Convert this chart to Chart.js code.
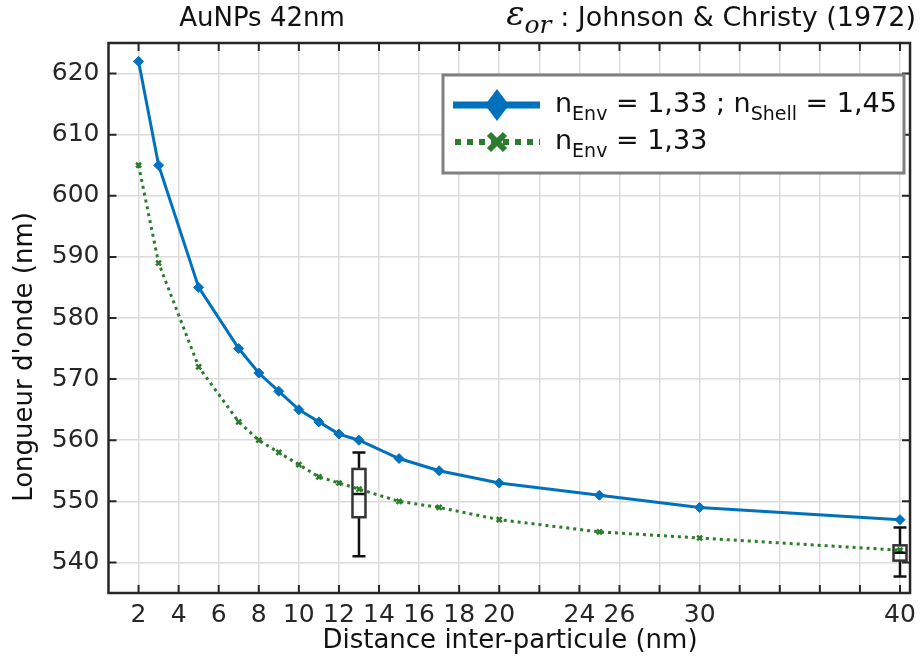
<!DOCTYPE html>
<html>
<head>
<meta charset="utf-8">
<script src="https://cdn.jsdelivr.net/npm/chart.js@4.4.1/dist/chart.umd.min.js"></script>
<style>
  body { margin: 0; background: #fff; }
</style>
</head>
<body>
<canvas id="chart" width="923" height="660"></canvas>
<script>
// data
const distances = [2, 3, 5, 7, 8, 9, 10, 11, 12, 13, 15, 17, 20, 25, 30, 40];
const shellValues = [622, 605, 585, 575, 571, 568, 565, 563, 561, 560, 557, 555, 553, 551, 549, 547];
const envValues = [605, 589, 572, 563, 560, 558, 556, 554, 553, 552, 550, 549, 547, 545, 544, 542];
const xTickLabels = [2, 4, 6, 8, 10, 12, 14, 16, 18, 20, 24, 26, 30, 40];
const xTickMarks = [2, 4, 6, 8, 10, 12, 14, 16, 18, 20, 22, 24, 26, 28, 30, 32, 34, 36, 38, 40];
const yTicks = [540, 550, 560, 570, 580, 590, 600, 610, 620];
const boxX = [13, 40];
const boxLow = [541, 537.7];
const boxQ1 = [547.4, 540.3];
const boxMed = [551.2, 541.6];
const boxQ3 = [555.3, 542.8];
const boxHigh = [558, 545.7];

const blue = '#0072BD';
const green = '#2a7d2a';
const ink = '#262626';
const FONT = '"DejaVu Sans", Verdana, sans-serif';

const toPoints = (xs, ys) => xs.map((x, i) => ({ x: x, y: ys[i] }));

// boxes, frame, inward ticks, titles and legend
const extras = {
  id: 'extras',
  afterDatasetsDraw(chart) {
    const ctx = chart.ctx;
    const x = chart.scales.x, y = chart.scales.y;
    ctx.save();
    ctx.lineWidth = 2.5;
    for (let i = 0; i < boxX.length; i++) {
      const cx = x.getPixelForValue(boxX[i]);
      const hw = 6.5;
      ctx.strokeStyle = '#111';
      ctx.beginPath();
      ctx.moveTo(cx, y.getPixelForValue(boxHigh[i]));
      ctx.lineTo(cx, y.getPixelForValue(boxQ3[i]));
      ctx.moveTo(cx, y.getPixelForValue(boxQ1[i]));
      ctx.lineTo(cx, y.getPixelForValue(boxLow[i]));
      ctx.moveTo(cx - hw, y.getPixelForValue(boxHigh[i]));
      ctx.lineTo(cx + hw, y.getPixelForValue(boxHigh[i]));
      ctx.moveTo(cx - hw, y.getPixelForValue(boxLow[i]));
      ctx.lineTo(cx + hw, y.getPixelForValue(boxLow[i]));
      ctx.moveTo(cx - hw, y.getPixelForValue(boxMed[i]));
      ctx.lineTo(cx + hw, y.getPixelForValue(boxMed[i]));
      ctx.stroke();
      ctx.strokeStyle = '#333';
      const top = y.getPixelForValue(boxQ3[i]);
      const bot = y.getPixelForValue(boxQ1[i]);
      ctx.strokeRect(cx - hw, top, hw * 2, bot - top);
    }
    ctx.restore();
  },
  afterDraw(chart) {
    const ctx = chart.ctx;
    const a = chart.chartArea;
    const x = chart.scales.x, y = chart.scales.y;
    ctx.save();
    // inward ticks
    ctx.strokeStyle = ink;
    ctx.lineWidth = 2;
    ctx.beginPath();
    xTickMarks.forEach(v => {
      const px = x.getPixelForValue(v);
      ctx.moveTo(px, a.bottom); ctx.lineTo(px, a.bottom - 8);
      ctx.moveTo(px, a.top); ctx.lineTo(px, a.top + 8);
    });
    yTicks.forEach(v => {
      const py = y.getPixelForValue(v);
      ctx.moveTo(a.left, py); ctx.lineTo(a.left + 8, py);
      ctx.moveTo(a.right, py); ctx.lineTo(a.right - 8, py);
    });
    ctx.stroke();
    ctx.lineWidth = 2.5;
    ctx.strokeRect(a.left, a.top, a.right - a.left, a.bottom - a.top);

    // axis titles
    ctx.fillStyle = '#111';
    ctx.textBaseline = 'middle';
    ctx.textAlign = 'center';
    ctx.font = '26px ' + FONT;
    ctx.fillText('Distance inter-particule (nm)', 510, 641);
    ctx.save();
    ctx.translate(25, 357);
    ctx.rotate(-Math.PI / 2);
    ctx.fillText("Longueur d'onde (nm)", 0, 0);
    ctx.restore();

    // titles
    ctx.font = '26px ' + FONT;
    ctx.textAlign = 'center';
    ctx.fillText('AuNPs 42nm', 262, 19);

    ctx.textAlign = 'left';
    const rest = ' : Johnson & Christy (1972)';
    ctx.font = '27px ' + FONT;
    const restW = ctx.measureText(rest).width;
    ctx.font = 'italic 34px "DejaVu Serif", serif';
    const epsW = ctx.measureText('\u03b5').width;
    ctx.font = 'italic 25px "DejaVu Serif", serif';
    const orW = ctx.measureText('or').width;
    let tx = 916 - restW - orW - epsW;
    ctx.font = 'italic 34px "DejaVu Serif", serif';
    ctx.fillText('\u03b5', tx, 16);
    tx += epsW;
    ctx.font = 'italic 25px "DejaVu Serif", serif';
    ctx.fillText('or', tx, 26);
    tx += orW;
    ctx.font = '27px ' + FONT;
    ctx.fillText(rest, tx, 19);

    // legend
    ctx.fillStyle = '#fff';
    ctx.fillRect(443, 75, 461, 98);
    ctx.strokeStyle = '#808080';
    ctx.lineWidth = 3;
    ctx.strokeRect(443, 75, 461, 98);

    const r1 = 105, r2 = 142;
    ctx.strokeStyle = blue;
    ctx.lineWidth = 7;
    ctx.beginPath(); ctx.moveTo(453, r1); ctx.lineTo(540, r1); ctx.stroke();
    ctx.fillStyle = blue;
    ctx.beginPath();
    ctx.moveTo(497, r1 - 16); ctx.lineTo(509, r1); ctx.lineTo(497, r1 + 16); ctx.lineTo(485, r1);
    ctx.closePath(); ctx.fill();

    ctx.strokeStyle = green;
    ctx.lineWidth = 6;
    ctx.setLineDash([6, 6]);
    ctx.beginPath(); ctx.moveTo(455, r2); ctx.lineTo(540, r2); ctx.stroke();
    ctx.setLineDash([]);
    ctx.lineWidth = 6;
    ctx.beginPath();
    ctx.moveTo(489, r2 - 8); ctx.lineTo(505, r2 + 8);
    ctx.moveTo(505, r2 - 8); ctx.lineTo(489, r2 + 8);
    ctx.stroke();

    const drawSub = (parts, sx, sy) => {
      ctx.fillStyle = '#111';
      ctx.textAlign = 'left';
      parts.forEach(p => {
        ctx.font = (p[1] ? '19px ' : '27px ') + FONT;
        ctx.fillText(p[0], sx, p[1] ? sy + 10 : sy);
        sx += ctx.measureText(p[0]).width;
      });
    };
    drawSub([['n', 0], ['Env', 1], [' = 1,33 ; n', 0], ['Shell', 1], [' = 1,45', 0]], 555, r1);
    drawSub([['n', 0], ['Env', 1], [' = 1,33', 0]], 555, r2);
    ctx.restore();
  }
};

new Chart(document.getElementById('chart'), {
  type: 'line',
  data: {
    datasets: [
      {
        label: 'nEnv = 1,33 ; nShell = 1,45',
        data: toPoints(distances, shellValues),
        borderColor: blue,
        backgroundColor: blue,
        borderWidth: 3,
        pointStyle: 'rectRot',
        pointRadius: 5,
        pointBorderWidth: 1,
        tension: 0
      },
      {
        label: 'nEnv = 1,33',
        data: toPoints(distances, envValues),
        borderColor: green,
        backgroundColor: green,
        borderWidth: 3,
        borderDash: [3, 4],
        pointStyle: 'crossRot',
        pointRadius: 3.5,
        pointBorderWidth: 2.5,
        tension: 0
      }
    ]
  },
  options: {
    responsive: false,
    animation: false,
    layout: { padding: { top: 43, right: 7, left: 0, bottom: 0 } },
    plugins: {
      legend: { display: false },
      tooltip: { enabled: false }
    },
    scales: {
      x: {
        type: 'linear',
        min: 0.5,
        max: 40.5,
        afterFit: s => { s.height = 67; },
        afterBuildTicks: s => { s.ticks = xTickMarks.map(v => ({ value: v })); },
        grid: { color: '#dcdcdc', lineWidth: 1.5, drawTicks: false },
        border: { display: false },
        ticks: {
          autoSkip: false,
          maxRotation: 0,
          padding: 7,
          color: ink,
          font: { family: FONT, size: 25 },
          callback: v => xTickLabels.includes(v) ? String(v) : ''
        }
      },
      y: {
        type: 'linear',
        min: 535,
        max: 625,
        afterFit: s => { s.width = 108.5; },
        afterBuildTicks: s => { s.ticks = yTicks.map(v => ({ value: v })); },
        grid: { color: '#dcdcdc', lineWidth: 1.5, drawTicks: false },
        border: { display: false },
        ticks: {
          padding: 9,
          color: ink,
          font: { family: FONT, size: 25 }
        }
      }
    }
  },
  plugins: [extras]
});
</script>
</body>
</html>
